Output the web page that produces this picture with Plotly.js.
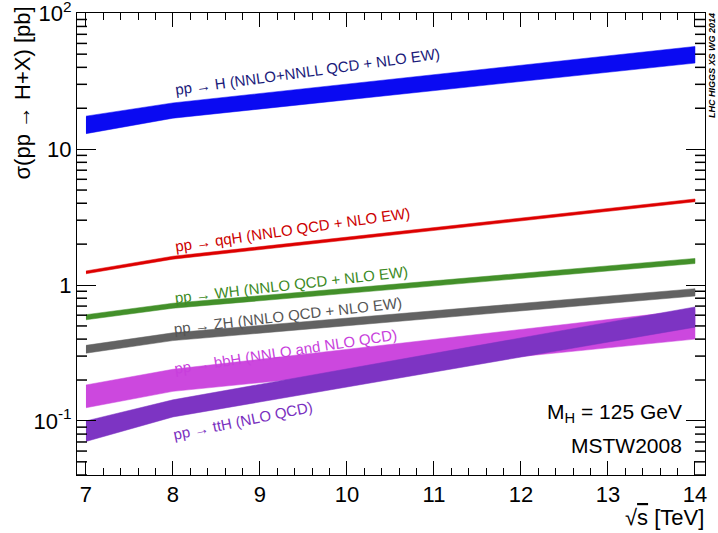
<!DOCTYPE html>
<html><head><meta charset="utf-8">
<script src="https://cdn.plot.ly/plotly-3.0.1.min.js"></script>
<style>html,body{margin:0;padding:0;background:#fff}#plot{width:718px;height:533px}</style>
</head><body><div id="plot"></div>
<script>
// centre-of-mass energies [TeV]
const sqrtS = [7, 8, 14];
// cross sections [pb], upper / lower edges of each band
const ggH_up = [17.5, 21.9, 57.0];
const ggH_lo = [13.0, 16.9, 43.0];
const qqH_up = [1.27, 1.63, 4.30];
const qqH_lo = [1.21, 1.55, 4.10];
const WH_up  = [0.605, 0.735, 1.57];
const WH_lo  = [0.555, 0.675, 1.44];
const ZH_up  = [0.360, 0.445, 0.94];
const ZH_lo  = [0.315, 0.390, 0.83];
const bbH_up = [0.184, 0.240, 0.66];
const bbH_lo = [0.125, 0.165, 0.40];
const ttH_up = [0.100, 0.143, 0.69];
const ttH_lo = [0.0706, 0.107, 0.49];
const xTickVals = [7, 8, 9, 10, 11, 12, 13, 14];
const yTickVals = [0.1, 1, 10, 100];
const yTickText = ['10<sup>-1</sup>', '1', '10', '10<sup>2</sup>'];

function band(up, lo, color) {
  return {
    x: sqrtS.concat(sqrtS.slice().reverse()),
    y: up.concat(lo.slice().reverse()),
    type: 'scatter', mode: 'lines', fill: 'toself',
    fillcolor: color, line: {width: 0.5, color: color},
    hoverinfo: 'skip', showlegend: false
  };
}
const data = [
  band(ggH_up, ggH_lo, '#0a0af2'),
  band(qqH_up, qqH_lo, '#dd0000'),
  band(WH_up, WH_lo, '#43902a'),
  band(ZH_up, ZH_lo, '#626262'),
  band(bbH_up, bbH_lo, '#cc48de'),
  band(ttH_up, ttH_lo, '#7d34c3')
];

const Y_LO = Math.log10(0.04), Y_HI = 2.002;
// log minor tick positions on the y axis (2..9 in each decade), drawn as short paper-space lines
const yMinor = [];
[0.01, 0.1, 1, 10].forEach(d => { for (let k = 2; k <= 9; k++) { const v = k * d; if (v >= 0.0399) yMinor.push(v); } });
const minorLen = 10 / 628;
const shapes = [];
yMinor.forEach(v => {
  const p = (Math.log10(v) - Y_LO) / (Y_HI - Y_LO);
  shapes.push({type: 'line', xref: 'paper', yref: 'paper', layer: 'above', x0: 0, x1: minorLen, y0: p, y1: p, line: {color: '#000', width: 1.5}});
  shapes.push({type: 'line', xref: 'paper', yref: 'paper', layer: 'above', x0: 1 - minorLen, x1: 1, y0: p, y1: p, line: {color: '#000', width: 1.5}});
});

const FONT = '"Liberation Sans", Arial, Helvetica, sans-serif';
function lab(text, x, y, color, ang) {
  return {text: text, xref: 'paper', yref: 'paper', x: x, y: y, showarrow: false,
    textangle: ang, font: {family: FONT, size: 15, color: color}, xanchor: 'center', yanchor: 'middle'};
}
// paper coordinates from pixel positions of plot area: l=77, r=705, t=13, b=475
const px = p => (p - 77) / 628;
const py = p => (475 - p) / 462;

const layout = {
  width: 718, height: 533,
  margin: {l: 77, r: 13, t: 13, b: 58},
  paper_bgcolor: '#fff', plot_bgcolor: '#fff',
  font: {family: FONT, color: '#000'},
  shapes: shapes,
  xaxis: {
    range: [6.897, 14.115], showgrid: false, zeroline: false,
    showline: true, linecolor: '#000', linewidth: 1, mirror: 'allticks',
    ticks: 'inside', ticklen: 14, tickwidth: 1, tickcolor: '#000',
    tickmode: 'array', tickvals: xTickVals,
    tickfont: {family: FONT, size: 22, color: '#000'},
    minor: {dtick: 0.2, tick0: 7, ticks: 'inside', ticklen: 7, tickwidth: 1, tickcolor: '#000'}
  },
  yaxis: {
    type: 'log', range: [Y_LO, Y_HI], showgrid: false, zeroline: false,
    showline: true, linecolor: '#000', linewidth: 1, mirror: 'allticks',
    ticks: 'inside', ticklen: 19, tickwidth: 1, tickcolor: '#000',
    tickmode: 'array', tickvals: yTickVals, ticktext: yTickText, ticklabeloverflow: 'allow',
    tickfont: {family: FONT, size: 22, color: '#000'}
  },
  annotations: [
    {text: 'σ(pp → H+X) [pb]', xref: 'paper', yref: 'paper', x: px(22), y: py(5), xanchor: 'center', yanchor: 'top',
     textangle: -90, showarrow: false, font: {family: FONT, size: 22, color: '#000'}},
    {text: '√<span style="text-decoration:overline">s</span> [TeV]', xref: 'paper', yref: 'paper', x: px(706), y: py(517), xanchor: 'right', yanchor: 'middle',
     showarrow: false, font: {family: FONT, size: 22, color: '#000'}},
    {text: 'M<sub>H</sub> = 125 GeV', xref: 'paper', yref: 'paper', x: px(684), y: py(413), xanchor: 'right', yanchor: 'middle',
     showarrow: false, font: {family: FONT, size: 21, color: '#000'}},
    {text: 'MSTW2008', xref: 'paper', yref: 'paper', x: px(684), y: py(445), xanchor: 'right', yanchor: 'middle',
     showarrow: false, font: {family: FONT, size: 21, color: '#000'}},
    {text: '<b><i>LHC HIGGS XS WG 2014</i></b>', xref: 'paper', yref: 'paper', x: px(712), y: py(66), xanchor: 'center', yanchor: 'middle',
     textangle: -90, showarrow: false, font: {family: FONT, size: 9, color: '#000'}},
    lab('pp → H (NNLO+NNLL QCD + NLO EW)', px(307), py(72), '#1a1a7a', -7.8),
    lab('pp → qqH (NNLO QCD + NLO EW)', px(292), py(229), '#cc0000', -8.2),
    lab('pp → WH (NNLO QCD + NLO EW)', px(291), py(284), '#3c8a24', -6.5),
    lab('pp → ZH (NNLO QCD + NLO EW)', px(288), py(315), '#555555', -6.6),
    lab('pp → bbH (NNLO and NLO QCD)', px(285), py(351), '#c83fdc', -8.8),
    lab('pp → ttH (NLO QCD)', px(243), py(420), '#7a30c0', -11.5)
  ]
};
Plotly.newPlot('plot', data, layout, {staticPlot: true, displayModeBar: false});
</script></body></html>
